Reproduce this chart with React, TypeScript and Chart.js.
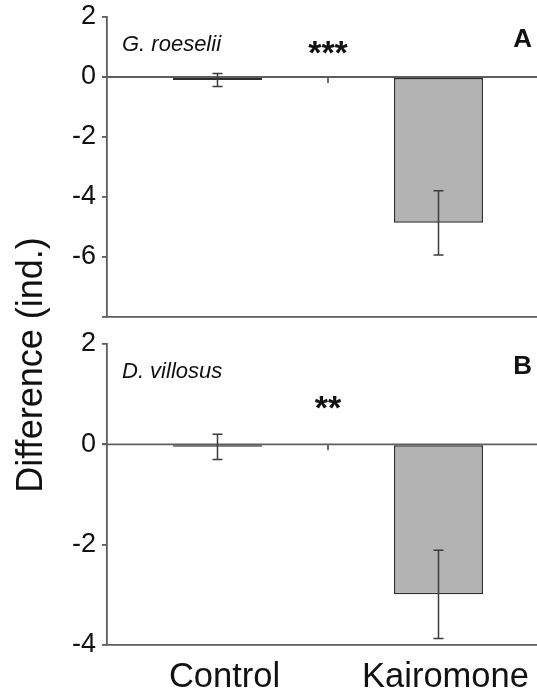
import React, { useEffect, useRef } from 'react';
import { Chart, registerables } from 'chart.js';

Chart.register(...registerables);

// Treatment groups on the shared x axis
const categories = ['Control', 'Kairomone'];

// Panel A: Gammarus roeselii (mean difference and error)
const meansA = [-0.1, -4.86];
const errorsA = [0.22, 1.07];
const ticksA = [2, 0, -2, -4, -6, -8];

// Panel B: Dikerogammarus villosus
const meansB = [-0.05, -2.99];
const errorsB = [0.25, 0.88];
const ticksB = [2, 0, -2, -4];

const speciesA = 'G. roeselii';
const speciesB = 'D. villosus';
const signifA = '***';
const signifB = '**';
const letterA = 'A';
const letterB = 'B';
const yTitle = 'Difference (ind.)';

const FONT = '"Liberation Sans", Arial, Helvetica, sans-serif';
const AXIS = '#5e5e5e';
const INK = '#111111';
const BAR_FILL = '#b3b3b3';
const BAR_EDGE = '#2e2e2e';
const ERR = '#3c3c3c';

const W = 549;
const H = 693;

type Decor = {
  errors: number[];
  species: string;
  signif: string;
  signifOffset: number;
  letter: string;
  drawTitle: boolean;
};

const panelDecor = {
  id: 'panelDecor',
  beforeDatasetsDraw(chart: any) {
    const { ctx, chartArea, scales } = chart;
    const x = scales.x;
    const y = scales.y;
    const y0 = y.getPixelForValue(0);
    ctx.save();
    ctx.strokeStyle = AXIS;
    ctx.lineWidth = 1.8;
    ctx.beginPath();
    ctx.moveTo(chartArea.left - 5, y0);
    ctx.lineTo(chartArea.right, y0);
    // separator tick between the two groups
    const xs = (x.getPixelForValue(0) + x.getPixelForValue(1)) / 2;
    ctx.moveTo(xs, y0);
    ctx.lineTo(xs, y0 + 6);
    ctx.stroke();
    ctx.restore();
  },
  afterDatasetsDraw(chart: any, _args: any, o: Decor) {
    const { ctx, chartArea, scales } = chart;
    const x = scales.x;
    const y = scales.y;
    const means = chart.data.datasets[0].data as number[];
    ctx.save();
    // error bars
    ctx.strokeStyle = ERR;
    ctx.lineWidth = 1.5;
    means.forEach((m, i) => {
      const px = x.getPixelForValue(i);
      const top = y.getPixelForValue(m + o.errors[i]);
      const bot = y.getPixelForValue(m - o.errors[i]);
      ctx.beginPath();
      ctx.moveTo(px, top);
      ctx.lineTo(px, bot);
      ctx.moveTo(px - 5, top);
      ctx.lineTo(px + 5, top);
      ctx.moveTo(px - 5, bot);
      ctx.lineTo(px + 5, bot);
      ctx.stroke();
    });

    // species name
    ctx.fillStyle = INK;
    ctx.textBaseline = 'alphabetic';
    ctx.textAlign = 'left';
    ctx.font = `italic 22px ${FONT}`;
    ctx.fillText(o.species, chartArea.left + 15, chartArea.top + 33.5);

    // significance stars above the group separator
    const xs = (x.getPixelForValue(0) + x.getPixelForValue(1)) / 2;
    ctx.textAlign = 'center';
    ctx.font = `bold 34px ${FONT}`;
    ctx.fillText(o.signif, xs, chartArea.top + o.signifOffset);

    // panel letter
    ctx.textAlign = 'right';
    ctx.font = `bold 26px ${FONT}`;
    ctx.fillText(o.letter, chartArea.right - 17, chartArea.top + 30);

    if (o.drawTitle) {
      ctx.save();
      ctx.translate(42, chartArea.top + 21);
      ctx.rotate(-Math.PI / 2);
      ctx.textAlign = 'center';
      ctx.font = `36px ${FONT}`;
      ctx.fillText(yTitle, 0, 0);
      ctx.restore();
    }
    ctx.restore();
  },
};

function panelConfig(
  means: number[],
  ticks: number[],
  decor: Decor,
  padTop: number,
  padBottom: number,
  xHeight: number,
  showXLabels: boolean
): any {
  const yMin = Math.min(...ticks);
  const yMax = Math.max(...ticks);
  return {
    type: 'bar',
    data: {
      labels: categories,
      datasets: [
        {
          data: means,
          backgroundColor: BAR_FILL,
          borderColor: BAR_EDGE,
          borderWidth: 1.5,
          borderSkipped: false,
          barPercentage: 0.403,
          categoryPercentage: 1,
        },
      ],
    },
    options: {
      responsive: false,
      animation: false,
      events: [],
      layout: { padding: { top: padTop, bottom: padBottom, left: 0, right: 0 } },
      plugins: {
        legend: { display: false },
        tooltip: { enabled: false },
        title: { display: false },
        panelDecor: decor,
      },
      scales: {
        x: {
          type: 'category',
          offset: true,
          grid: { display: false, drawTicks: false },
          border: { display: true, color: AXIS, width: 1.8 },
          ticks: {
            display: showXLabels,
            color: INK,
            font: { family: FONT, size: 34.5 },
            padding: 12,
            labelOffset: 7,
            maxRotation: 0,
          },
          afterFit: (s: any) => {
            s.height = xHeight;
            s.paddingLeft = 0;
            s.paddingRight = 0;
          },
        },
        y: {
          min: yMin,
          max: yMax,
          afterBuildTicks: (s: any) => {
            s.ticks = ticks.map((v) => ({ value: v }));
          },
          grid: {
            drawOnChartArea: false,
            drawTicks: true,
            tickLength: 5,
            color: AXIS,
            lineWidth: 1.8,
          },
          border: { display: true, color: AXIS, width: 1.8 },
          ticks: {
            color: INK,
            font: { family: FONT, size: 27 },
            padding: 6,
            callback: (v: number) => (v === yMin && ticks.length > 4 ? '' : String(v)),
          },
          afterFit: (s: any) => {
            s.width = 107;
            s.paddingTop = 0;
            s.paddingBottom = 0;
          },
        },
      },
    },
    plugins: [panelDecor],
  };
}

export default function App() {
  const refA = useRef<HTMLCanvasElement>(null);
  const refB = useRef<HTMLCanvasElement>(null);

  useEffect(() => {
    const chartA = new Chart(
      refA.current as HTMLCanvasElement,
      panelConfig(
        meansA,
        ticksA,
        { errors: errorsA, species: speciesA, signif: signifA, signifOffset: 47, letter: letterA, drawTitle: false },
        17,
        376,
        0,
        false
      )
    );
    const chartB = new Chart(
      refB.current as HTMLCanvasElement,
      panelConfig(
        meansB,
        ticksB,
        { errors: errorsB, species: speciesB, signif: signifB, signifOffset: 75, letter: letterB, drawTitle: true },
        344,
        0,
        48,
        true
      )
    );
    return () => {
      chartA.destroy();
      chartB.destroy();
    };
  }, []);

  const canvasStyle: React.CSSProperties = { position: 'absolute', left: 0, top: 0, display: 'block' };

  return (
    <div
      style={{
        position: 'absolute',
        left: 0,
        top: 0,
        width: 537,
        height: 693,
        overflow: 'hidden',
        background: '#ffffff',
      }}
    >
      <canvas ref={refA} width={W} height={H} style={canvasStyle} />
      <canvas ref={refB} width={W} height={H} style={canvasStyle} />
    </div>
  );
}
